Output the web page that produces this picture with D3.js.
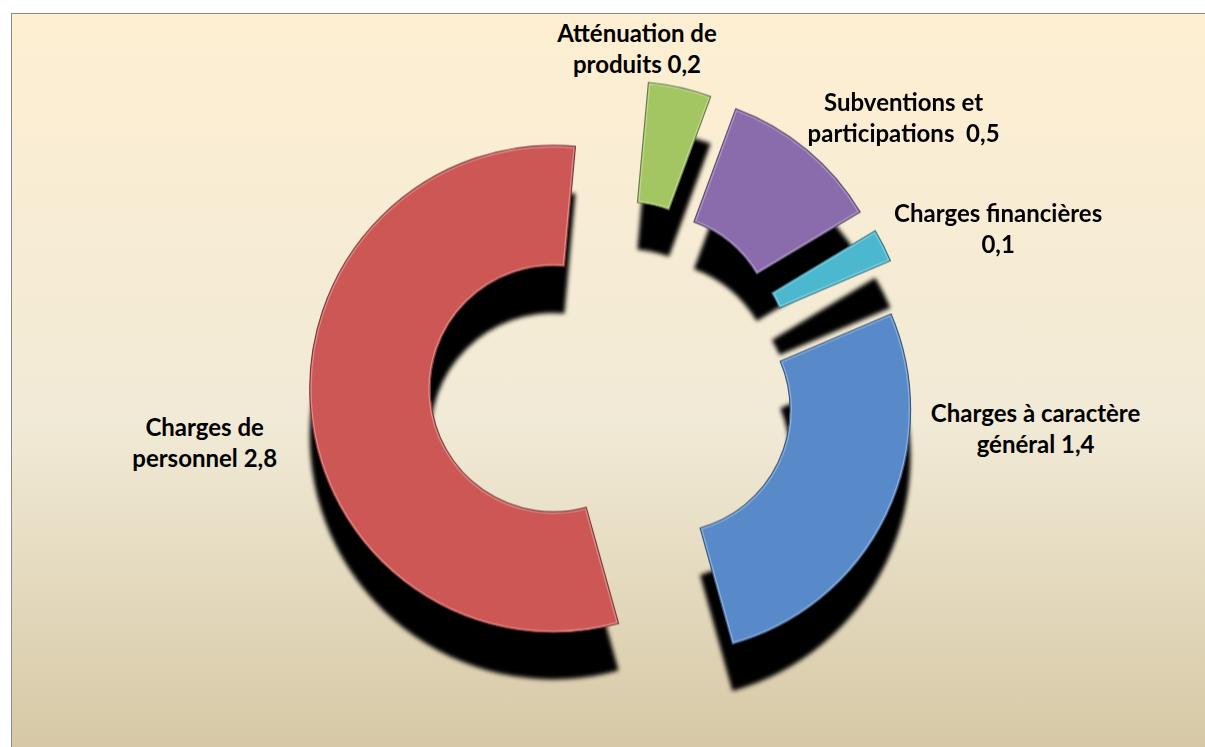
<!DOCTYPE html>
<html lang="fr">
<head>
  <meta charset="UTF-8">
  <title>Dépenses de fonctionnement</title>
  <script src="https://cdnjs.cloudflare.com/ajax/libs/d3/7.8.5/d3.min.js"></script>
  <style>
    body { margin: 0; background: #fff; }
    svg { display: block; }
    .lbl { font-family: Lato, "Open Sans", sans-serif; font-weight: 700; font-size: 24px; fill: #000; white-space: pre; }
  </style>
</head>
<body>
  <svg id="chart" width="1205" height="747"></svg>
  <script>
    // data, in the order Excel drew it (clockwise)
    var categories = ["Charges à caractère général", "Charges de personnel", "Atténuation de produits", "Subventions et participations", "Charges financières"]
    var values = [1.36, 2.8, 0.21, 0.54, 0.11]
    var labelLines = [["Charges à caractère", "général "], ["Charges de", "personnel "], ["Atténuation de", "produits "], ["Subventions et", "participations  "], ["Charges financières", ""]]

    var colors = ["#588AC9", "#CD5754", "#A3C562", "#8A6CAC", "#4BB8D0"]
    // label block centres, polar (degrees clockwise from top, radius) around the doughnut centre
    var labelPos = [[97.3, 426], [260.5, 414], [4.2, 327], [48.5, 388], [69.2, 412]]

    var cx = 613, cy = 383.5, outerR = 243.5, innerR = 123, explode = 60, shadowDy = 47
    var startDeg = 66.9
    var fmt = function (v) { return d3.format(".1f")(v).replace(".", ",") }

    var svg = d3.select("#chart")
    var defs = svg.append("defs")

    var bg = defs.append("linearGradient").attr("id", "bg")
      .attr("x1", 0).attr("y1", 0).attr("x2", 0).attr("y2", 1)
    bg.append("stop").attr("offset", "0%").attr("stop-color", "#FEEFD2")
    bg.append("stop").attr("offset", "55%").attr("stop-color", "#F1EAD6")
    bg.append("stop").attr("offset", "100%").attr("stop-color", "#D6C8A5")

    defs.append("filter").attr("id", "blur")
      .attr("x", "-20%").attr("y", "-20%").attr("width", "140%").attr("height", "140%")
      .append("feGaussianBlur").attr("stdDeviation", 2.2)

    svg.append("rect")
      .attr("x", 11.5).attr("y", 13.5)
      .attr("width", 1200).attr("height", 740)
      .attr("fill", "url(#bg)")
      .attr("stroke", "#8c8c8c")

    var pie = d3.pie().sort(null)
      .startAngle(startDeg * Math.PI / 180)
      .endAngle((startDeg + 360) * Math.PI / 180)
    var arcs = pie(values)

    var arc = d3.arc().innerRadius(innerR).outerRadius(outerR)

    function shift(d) {
      var a = (d.startAngle + d.endAngle) / 2
      return [Math.sin(a) * explode, -Math.cos(a) * explode]
    }

    var g = svg.append("g").attr("transform", "translate(" + cx + "," + cy + ")")

    // shadows, all dropped straight down
    g.append("g").attr("filter", "url(#blur)")
      .selectAll("path")
      .data(arcs)
      .enter()
      .append("path")
      .attr("d", arc)
      .attr("transform", function (d) { var s = shift(d); return "translate(" + s[0] + "," + (s[1] + shadowDy) + ")" })
      .attr("fill", "#000")

    var slices = g.selectAll("g.slice")
      .data(arcs)
      .enter()
      .append("g")
      .attr("class", "slice")
      .attr("transform", function (d) { var s = shift(d); return "translate(" + s[0] + "," + s[1] + ")" })

    slices.append("clipPath").attr("id", function (d, i) { return "clip" + i })
      .append("path").attr("d", arc)

    slices.append("path")
      .attr("d", arc)
      .attr("fill", function (d, i) { return colors[i] })

    // soft bevel: light inner rim + dark outline
    slices.append("path")
      .attr("d", arc)
      .attr("fill", "none")
      .attr("stroke", "#fff")
      .attr("stroke-opacity", 0.3)
      .attr("stroke-width", 4)
      .attr("clip-path", function (d, i) { return "url(#clip" + i + ")" })

    slices.append("path")
      .attr("d", arc)
      .attr("fill", "none")
      .attr("stroke", function (d, i) { return d3.color(colors[i]).darker(1.3) })
      .attr("stroke-width", 1.2)

    // labels
    var labels = svg.append("g")
      .selectAll("text")
      .data(arcs)
      .enter()
      .append("text")
      .attr("class", "lbl")
      .attr("text-anchor", "middle")
      .attr("transform", function (d, i) {
        var a = labelPos[i][0] * Math.PI / 180, r = labelPos[i][1]
        return "translate(" + (cx + Math.sin(a) * r) + "," + (cy - Math.cos(a) * r) + ")"
      })

    labels.append("tspan")
      .attr("x", 0).attr("y", -15.5)
      .text(function (d, i) { return labelLines[i][0] })

    labels.append("tspan")
      .attr("x", 0).attr("y", 15.5)
      .text(function (d, i) { return labelLines[i][1] + fmt(values[i]) })
  </script>
</body>
</html>
